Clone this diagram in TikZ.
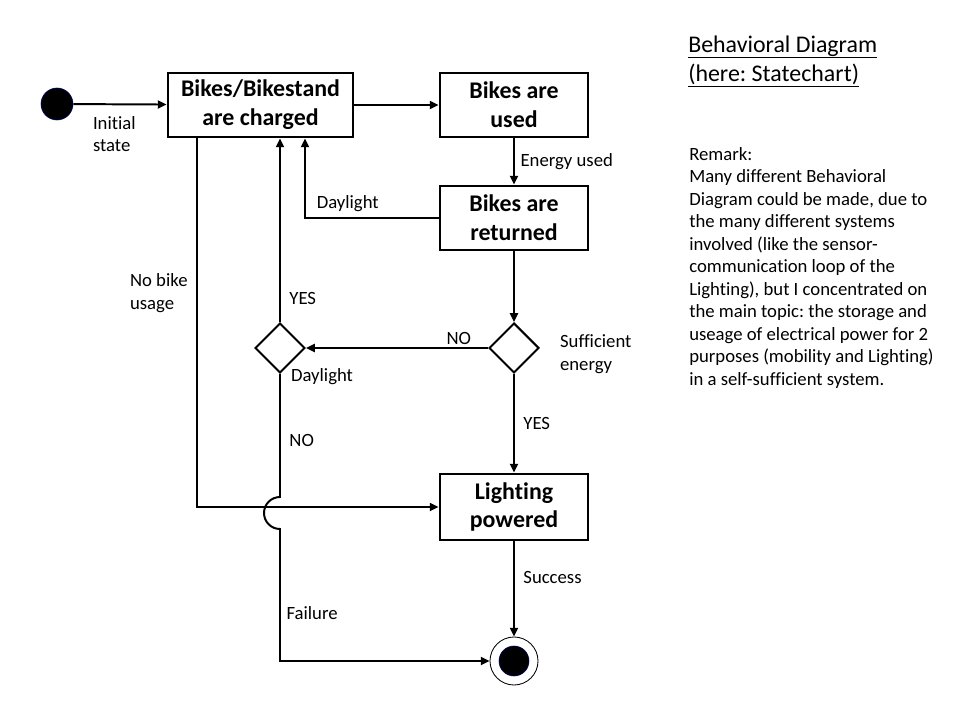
\documentclass[tikz,border=0pt]{standalone}
\usepackage{fontspec}
\setmainfont{Carlito}[Ligatures=NoCommon]
\usetikzlibrary{shapes.geometric,arrows.meta}
\frenchspacing

\tikzset{
  statebox/.style={draw, line width=2pt, minimum width=3.7cm, minimum height=1.6cm, align=center, font=\fontsize{17}{20.6}\selectfont\bfseries},
  choice/.style={draw, diamond, line width=1.4pt, minimum width=1.25cm, minimum height=1.25cm, inner sep=0pt},
  lbl/.style={font=\fontsize{13.3}{16}\selectfont, inner sep=2pt, align=left},
  arr/.style={line width=1.4pt, -{Triangle[length=0.22cm,width=0.2cm]}},
  heading/.style={font=\fontsize{17}{20.6}\selectfont, inner sep=0pt, anchor=base west},
}

\begin{document}
\begin{tikzpicture}[x=0.025cm, y=-0.025cm]
    \useasboundingbox (0,0) rectangle (960,720);

    % draw states
    \node[statebox, minimum width=4.625cm] (charged) at (260.5,105) {Bikes/Bikestand\\are charged};
    \node[statebox] (used) at (514,105) {Bikes are\\used};
    \node[statebox] (returned) at (514,218) {Bikes are\\returned};
    \node[statebox, minimum height=1.65cm] (powered) at (514,507) {Lighting\\powered};

    % draw decisions
    \node[choice] (suff) at (514,348) {};
    \node[choice] (day) at (280,348) {};

    % draw start and end
    \node[circle, fill=black, draw=blue!40!black, minimum size=0.8cm, inner sep=0pt] (start) at (57,104) {};
    \node[circle, draw, line width=0.6pt, minimum size=1.2cm, inner sep=0pt] (end) at (514,661) {};
    \fill[draw=blue!40!black] (end.center) circle[radius=0.375cm];

    % draw transitions
    \draw[arr] (start) -- node[lbl, pos=0.44, below=6pt] {Initial\\state} (charged);
    \draw[arr] (charged) -- (used);
    \draw[arr] (used) -- node[lbl, right=2pt] {Energy used} (returned);
    \draw[arr] (returned.west) -| node[lbl, pos=0.34, above=2pt] {Daylight} ([xshift=1.1125cm]charged.south);
    \draw[arr] (returned) -- (suff);
    \draw[arr] (suff) -- node[lbl, pos=0.16, above] {NO} (day);
    \draw[arr] (day) -- node[lbl, pos=0.13, right=4pt] {YES} ([xshift=0.4875cm]charged.south);
    \draw[arr] (suff) -- node[lbl, right=4pt] {YES} (powered);
    \draw[arr] (powered) -- node[lbl, pos=0.38, right=4pt] {Success} (end);
    \draw[arr] ([xshift=-1.5875cm]charged.south) |- node[lbl, pos=0.21, left=4pt] {No bike\\usage} (powered);

    % failure path with jump
    \coordinate (jumptop) at (280,497);
    \draw[arr] (day) -- node[lbl, pos=0.54, right=4pt] {NO} (jumptop)
        arc[start angle=90, end angle=270, radius=0.4cm]
        |- node[lbl, pos=0.32, right=2pt] {Failure} (end);

    % decision labels
    \node[lbl, anchor=west] (daylbl) at (288,377) {Daylight};
    \node[lbl, anchor=west] (sufflbl) at (557,354) {Sufficient\\energy};

    % draw heading and remark
    \node[heading] (title1) at (688,53) {Behavioral Diagram};
    \node[heading] (title2) at (688,82) {(here: Statechart)};
    \draw[line width=1pt] ([yshift=-3pt]title1.base west) -- ([yshift=-3pt]title1.base east);
    \draw[line width=1pt] ([yshift=-3pt]title2.base west) -- ([yshift=-3pt]title2.base east);
    \node[lbl, anchor=north west, inner sep=0pt] (remark) at (689,147) {Remark:\\Many different Behavioral\\Diagram could be made, due to\\the many different systems\\involved (like the sensor-\\communication loop of the\\Lighting), but I concentrated on\\the main topic: the storage and\\useage of electrical power for 2\\purposes (mobility and Lighting)\\in a self-sufficient system.};
\end{tikzpicture}
\end{document}
